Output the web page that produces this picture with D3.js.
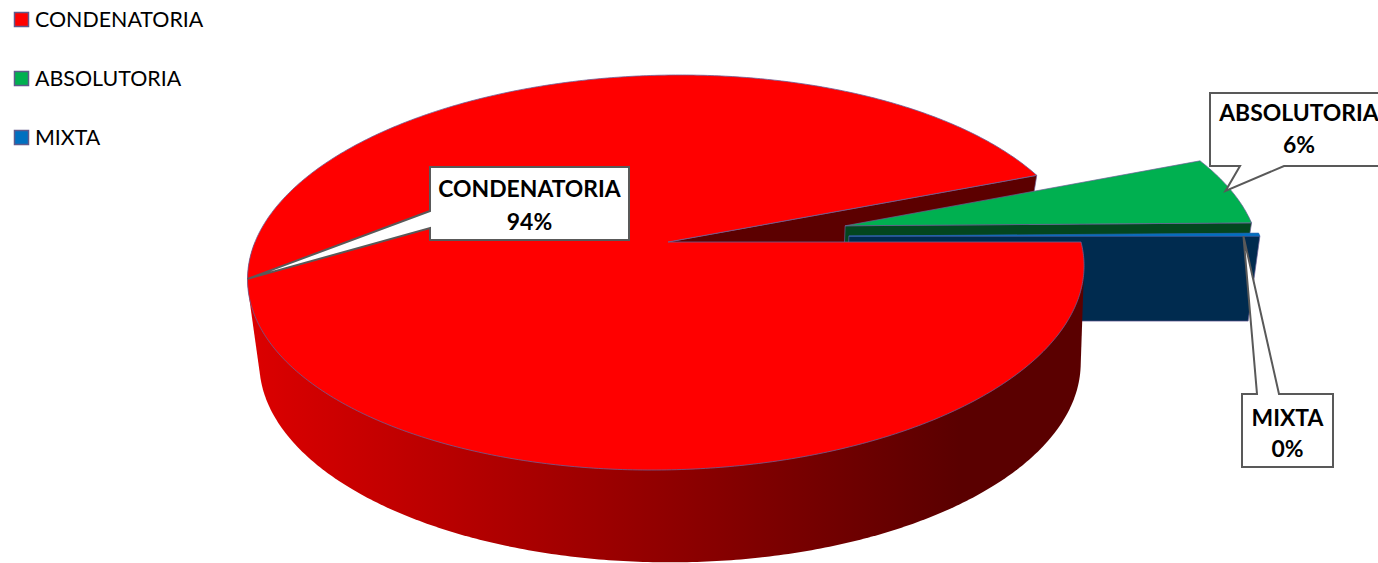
<!DOCTYPE html>
<html>
<head>
<meta charset="utf-8">
<script src="https://cdn.jsdelivr.net/npm/d3@7"></script>
<style>
  html, body { margin: 0; padding: 0; background: #fff; overflow: hidden; }
  svg { display: block; font-family: Lato, "Open Sans", sans-serif; }
</style>
</head>
<body>
<div id="chart"></div>
<script>
const categories = ['CONDENATORIA', 'ABSOLUTORIA', 'MIXTA'];
const values = [94.05, 5.7, 0.25];
const topColors = ['#ff0000', '#00b050', '#0070c0'];
const wallColors = ['#5c0000', '#03461f', '#002b4f'];

const width = 1378, height = 563;
const svg = d3.select('#chart').append('svg').attr('width', width).attr('height', height);

// pie starts at 3 o'clock and runs clockwise
const arcs = d3.pie().sort(null).value(d => d)
  .startAngle(Math.PI / 2).endAngle(Math.PI / 2 + 2 * Math.PI)(values);

// Excel style 3D: both faces of the disc are perspective planes
const topPlane = { cx: 668, cy: 242, rx: 413, ry: 192.8, k: 0.1545, shear: -14 };
const bottomPlane = { cx: 670, cy: 327, rx: 404, ry: 193, k: 0.18, shear: 0 };

function project(plane, u, v) {
  const w = 1 - plane.k * v;
  return [plane.cx + (plane.rx * u + plane.shear * v) / w, plane.cy + plane.ry * v / w];
}

// exploded slices move out along a bearing (the 0% sliver sits a bit higher than its mid angle)
const explode = [0, 0.44, 0.44];
const bearings = arcs.map((a, i) => i === 2 ? Math.PI / 2 - 4 * Math.PI / 180 : (a.startAngle + a.endAngle) / 2);

function point(plane, i, angle, r) {
  const du = explode[i] * Math.sin(bearings[i]);
  const dv = -explode[i] * Math.cos(bearings[i]);
  return project(plane, du + r * Math.sin(angle), dv - r * Math.cos(angle));
}

const line = d3.line();
const outline = '#6b5f97';

function arcAngles(a0, a1) {
  const n = Math.max(2, Math.ceil(Math.abs(a1 - a0) / 0.01));
  return d3.range(n + 1).map(j => a0 + (a1 - a0) * j / n);
}

function topFace(i) {
  const a = arcs[i];
  const pts = [point(topPlane, i, 0, 0)]
    .concat(arcAngles(a.startAngle, a.endAngle).map(t => point(topPlane, i, t, 1)));
  return line(pts) + 'Z';
}

// flat cut face of a slice, along one of its edges
function cutFace(i, angle) {
  return line([
    point(topPlane, i, 0, 0), point(topPlane, i, angle, 1),
    point(bottomPlane, i, angle, 1), point(bottomPlane, i, 0, 0)
  ]) + 'Z';
}

const defs = svg.append('defs');
const grad = defs.append('linearGradient').attr('id', 'rimShade')
  .attr('gradientUnits', 'userSpaceOnUse')
  .attr('x1', 250).attr('x2', 960).attr('y1', 0).attr('y2', 0);
grad.append('stop').attr('offset', 0).attr('stop-color', '#dc0000');
grad.append('stop').attr('offset', 1).attr('stop-color', '#5a0000');

// back to front: red cut face, green slice, blue slice, red rim and top
svg.append('path').attr('d', cutFace(0, arcs[0].endAngle)).attr('fill', wallColors[0])
  .attr('stroke', outline).attr('stroke-width', 0.7);

[1, 2].forEach(i => {
  svg.append('path').attr('d', cutFace(i, arcs[i].endAngle)).attr('fill', wallColors[i])
    .attr('stroke', outline).attr('stroke-width', 0.7);
  svg.append('path').attr('d', topFace(i)).attr('fill', topColors[i])
    .attr('stroke', i === 2 ? '#2a63b0' : outline).attr('stroke-width', 0.7);
});

// rim is the hull of the front half of both edges, the top face covers the rest of it
const rimAngles = arcAngles(arcs[0].startAngle, Math.PI + Math.PI / 2);
const rimHull = d3.polygonHull(rimAngles.map(t => point(topPlane, 0, t, 1))
  .concat(rimAngles.map(t => point(bottomPlane, 0, t, 1))));
svg.append('path').attr('d', line(rimHull) + 'Z').attr('fill', 'url(#rimShade)');

svg.append('path').attr('d', topFace(0)).attr('fill', topColors[0])
  .attr('stroke', outline).attr('stroke-width', 0.8);

// callouts: a box with a wedge pointing back at the slice
const boxes = [
  { x: 430, y: 167, w: 199, h: 73, anchorA: [430, 211], anchorB: [430, 228], reach: 1, line1: 30, line2: 63 },
  { x: 1210, y: 93, w: 190, h: 73, anchorA: [1240, 166], anchorB: [1284, 166], reach: 0.985, textX: 1299, line1: 28, line2: 60 },
  { x: 1242, y: 394, w: 91, h: 73, anchorA: [1257, 394], anchorB: [1279, 394], reach: 0.96, line1: 32, line2: 63 }
];

boxes.forEach((b, i) => {
  const a = arcs[i];
  const mid = i === 2 ? Math.PI / 2 : (a.startAngle + a.endAngle) / 2;
  const tip = point(topPlane, i, mid, b.reach);
  const x0 = b.x, x1 = b.x + b.w, y0 = b.y, y1 = b.y + b.h;
  let pts;
  if (i === 0) {
    pts = [[x0, y0], [x1, y0], [x1, y1], [x0, y1], b.anchorB, tip, b.anchorA];
  } else if (i === 1) {
    pts = [[x0, y0], [x1, y0], [x1, y1], b.anchorB, tip, b.anchorA, [x0, y1]];
  } else {
    pts = [[x0, y0], b.anchorA, tip, b.anchorB, [x1, y0], [x1, y1], [x0, y1]];
  }
  svg.append('path').attr('d', line(pts) + 'Z')
    .attr('fill', '#fff').attr('stroke', '#595959').attr('stroke-width', 2);
  const tx = b.textX !== undefined ? b.textX : b.x + b.w / 2;
  const label = svg.append('text').attr('text-anchor', 'middle')
    .attr('font-weight', 700).attr('font-size', 22.9).attr('fill', '#000');
  label.append('tspan').attr('x', tx).attr('y', y0 + b.line1).text(categories[i]);
  label.append('tspan').attr('x', tx).attr('y', y0 + b.line2).text(Math.round(values[i]) + '%');
});

// legend
const legend = svg.append('g').selectAll('g')
  .data(categories)
  .join('g')
  .attr('transform', (d, i) => `translate(0,${12 + i * 59})`);
legend.append('rect')
  .attr('x', 14.5).attr('y', 0.5).attr('width', 14).attr('height', 14)
  .attr('fill', (d, i) => topColors[i])
  .attr('stroke', '#5f5a8c').attr('stroke-width', 1.5);
legend.append('text')
  .attr('x', 35).attr('y', 15)
  .attr('font-size', 21.4).attr('fill', '#000')
  .text(d => d);
</script>
</body>
</html>
